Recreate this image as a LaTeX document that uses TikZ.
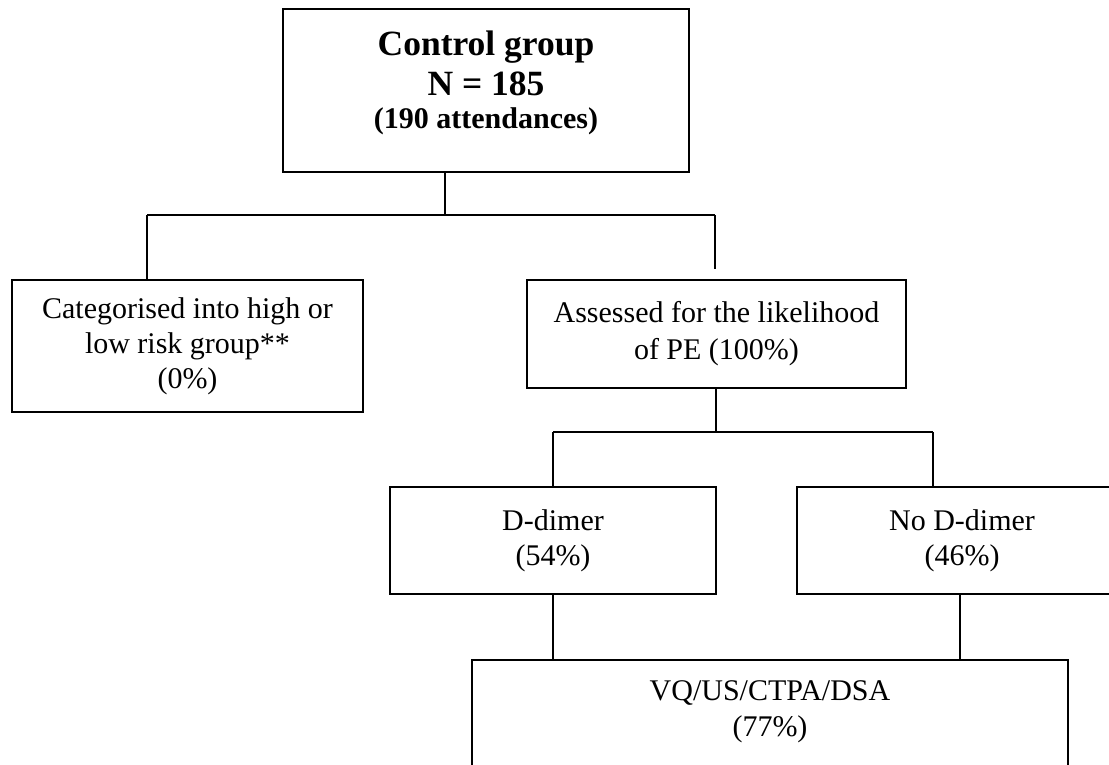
\documentclass[tikz,border=0pt]{standalone}
\usepackage{fontspec}
\setmainfont{Liberation Serif}
\usepackage{tikz}

\begin{document}
\begin{tikzpicture}[x=1pt, y=-1pt, line width=2pt,
  box/.style={draw, rectangle, inner sep=0pt, align=center, font=\fontsize{30}{36}\selectfont},
  headbox/.style={box, font=\bfseries\fontsize{35.5}{40}\selectfont}]
\useasboundingbox (0,0) rectangle (1109,765);
\clip (0,0) rectangle (1109,765);

\node[headbox, minimum width=406pt, minimum height=163pt] (ctrl) at (486,90.5)
  {Control group\\N = 185\\[-7pt]{\fontsize{30}{33}\selectfont (190 attendances)\rule[-22pt]{0pt}{0pt}}};
\node[box, minimum width=351pt, minimum height=132pt] (categ) at (187.5,346)
  {Categorised into high or\\[-1pt]low risk group**\\[-1pt](0\%)};
\node[box, minimum width=379pt, minimum height=108pt] (assess) at (716.5,334)
  {Assessed for the likelihood\\[1pt]of PE (100\%)};
\node[box, minimum width=326pt, minimum height=107pt] (ddimer) at (553,540.5)
  {D-dimer\\[-1pt](54\%)};
\node[box, minimum width=330pt, minimum height=107pt] (noddimer) at (962,540.5)
  {No D-dimer\\[-1pt](46\%)};
\node[box, anchor=north, minimum width=596pt, inner ysep=14.8pt] (imaging) at (770,659)
  {\parbox[t][140pt][t]{500pt}{\centering\strut VQ/US/CTPA/DSA\\(77\%)}};

% first split
\coordinate (fork1) at (445,215);
\coordinate (fork1L) at (147,215);
\coordinate (fork1R) at (715,215);
\draw (ctrl.south -| fork1) -- (fork1);
\draw (fork1L) -- (fork1R);
\draw (fork1L) -- (fork1L |- categ.north);
\draw[shorten >=10pt] (fork1R) -- (fork1R |- assess.north);

% second split
\coordinate (fork2) at (716,432);
\coordinate (fork2L) at (553,432);
\coordinate (fork2R) at (933,432);
\draw (assess.south -| fork2) -- (fork2);
\draw (fork2L) -- (fork2R);
\draw (fork2L) -- (fork2L |- ddimer.north);
\draw (fork2R) -- (fork2R |- noddimer.north);
\draw (ddimer.south) -- (ddimer.south |- imaging.north);
\draw ([xshift=-2pt]noddimer.south) -- ([xshift=-2pt]noddimer.south |- imaging.north);
\end{tikzpicture}
\end{document}
